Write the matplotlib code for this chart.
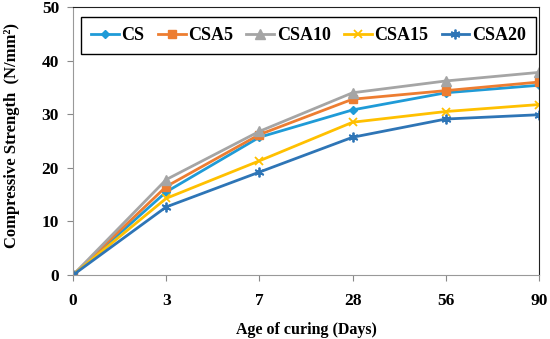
import matplotlib
matplotlib.use('Agg')
import matplotlib.pyplot as plt

days = ['0', '3', '7', '28', '56', '90']
cs = [0, 15.5, 25.7, 30.8, 34.0, 35.4]
csa5 = [0, 16.5, 26.2, 32.8, 34.4, 36.0]
csa10 = [0, 17.8, 26.8, 34.0, 36.2, 37.8]
csa15 = [0, 14.3, 21.3, 28.5, 30.5, 31.8]
csa20 = [0, 12.7, 19.2, 25.7, 29.1, 29.9]

plt.rcParams['font.family'] = ['Liberation Serif', 'DejaVu Serif']
plt.rcParams['font.weight'] = 'bold'

fig = plt.figure(figsize=(5.5, 3.39), dpi=100)
ax = fig.add_axes([73/550, 1-275/339, (539-73)/550, (275-7)/339])

x = list(range(len(days)))
asterisk = (6, 2, 0)
ax.plot(x, cs, color='#1f9bd7', marker='D', markersize=4.5, lw=2, label='CS')
ax.plot(x, csa5, color='#ed7d31', marker='s', markersize=5.5, lw=2, label='CSA5')
ax.plot(x, csa10, color='#a5a5a5', marker='^', markersize=6.5, lw=2, label='CSA10')
ax.plot(x, csa15, color='#ffc000', marker='x', markersize=6, mew=1.3, lw=2, label='CSA15')
ax.plot(x, csa20, color='#2e75b6', marker=asterisk, markersize=7, mew=1.3, lw=2, label='CSA20')

ax.set_xlim(0, 5)
ax.set_ylim(0, 50)
ax.set_xticks(x)
ax.set_xticklabels(days)
ax.set_yticks([0, 10, 20, 30, 40, 50])
ax.tick_params(axis='both', direction='out', length=4, color='#888888', labelsize=12.5, pad=6)
for lab in ax.get_xticklabels() + ax.get_yticklabels():
    lab.set_fontweight('bold')
ax.tick_params(axis='x', pad=9)

for s in ['left', 'bottom']:
    ax.spines[s].set_color('#999999')
for s in ['top', 'right']:
    ax.spines[s].set_color('#222222')

ax.set_xlabel('Age of curing (Days)', fontsize=11.5, fontweight='bold', labelpad=9)
ax.set_ylabel('Compressive Strength  (N/mm²)', fontsize=12, fontweight='bold',
              va='center')
ax.yaxis.set_label_coords(-0.13, 0.52)

leg = ax.legend(loc='upper left', bbox_to_anchor=(0.017, 0.963), ncol=5, fancybox=False,
                edgecolor='black', framealpha=1, prop={'size': 13, 'weight': 'bold'},
                handlelength=1.55, handletextpad=0.15, columnspacing=0.72,
                borderpad=0.55, borderaxespad=0)
leg.get_frame().set_linewidth(1.0)

fig.savefig('out.png', dpi=100)
